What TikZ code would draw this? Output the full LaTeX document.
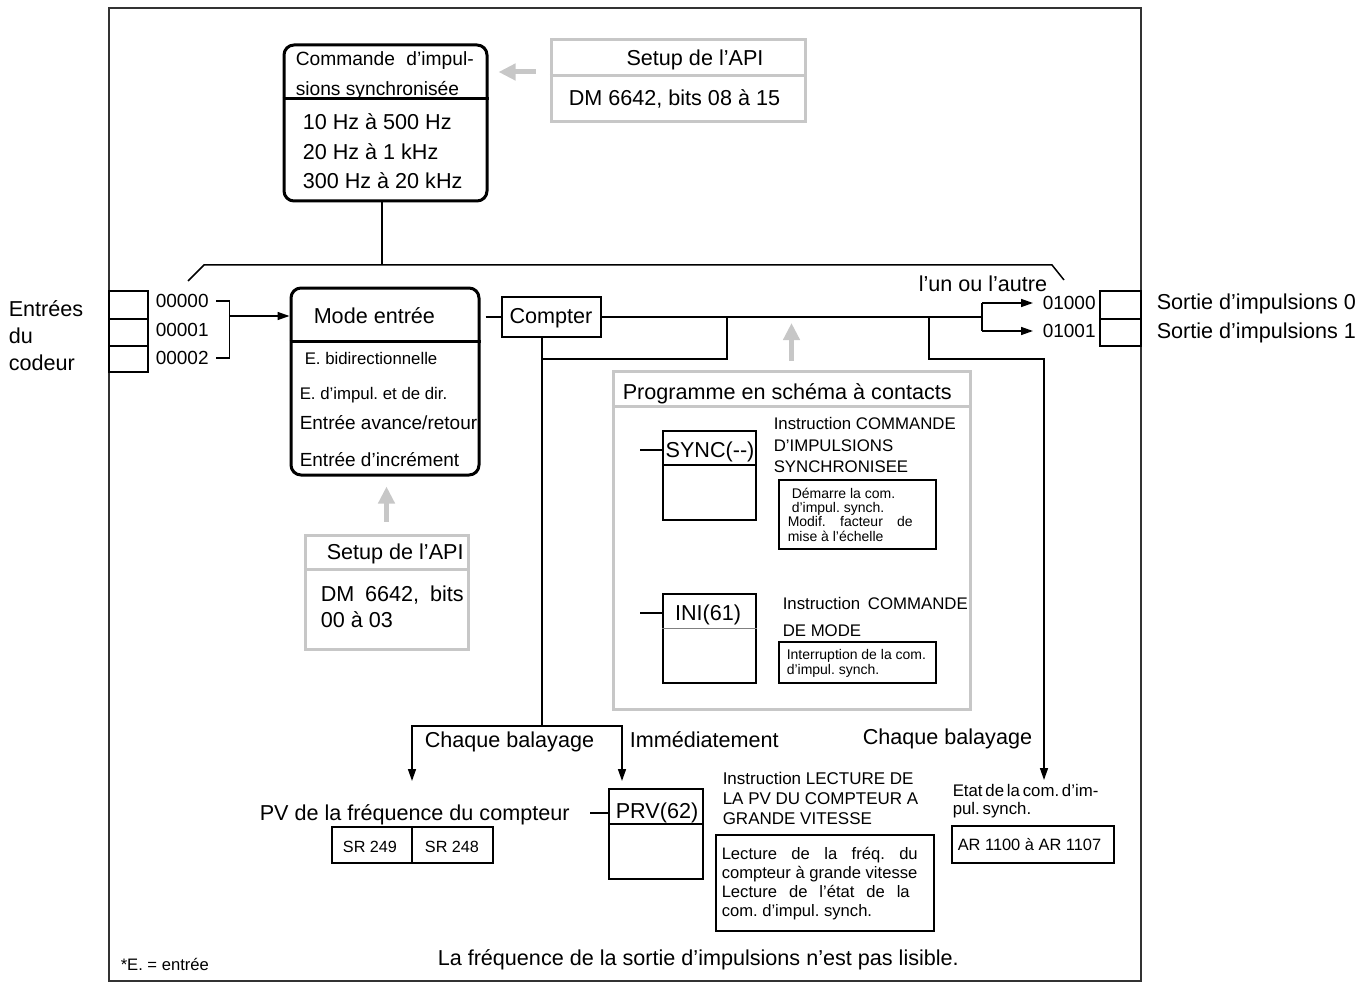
\documentclass[tikz,border=0pt]{standalone}
\usepackage{fontspec}
\setmainfont{Liberation Sans}
\usepackage{tikz}
\usetikzlibrary{arrows.meta,fit}
\definecolor{apigray}{gray}{0.78}
\definecolor{framegray}{gray}{0.2}
\newcommand\etatfont{\fontsize{8.4}{9}\selectfont\spaceskip 1.4pt plus 0.5pt\relax}
\tikzset{>/.tip={Triangle[length=6pt,width=4pt]},
  box/.style={draw, line width=.75pt, inner sep=0pt},
  rbox/.style={draw, line width=1.5pt, rounded corners=5pt, inner sep=0pt},
  gbox/.style={draw=apigray, line width=1.5pt, inner sep=0pt},
  garrow/.style={color=apigray, line width=2.5pt, -{Triangle[length=8.5pt,width=8pt]}},
  tbig/.style={font=\fontsize{10.8}{13.5}\selectfont, inner sep=0pt, text height=7.7pt, text depth=0pt},
  tmid/.style={font=\fontsize{9.5}{12}\selectfont, inner sep=0pt, text height=6.8pt, text depth=0pt},
  tsmall/.style={font=\fontsize{8.4}{10.5}\selectfont, inner sep=0pt, text height=6pt, text depth=0pt},
  mbig/.style={font=\fontsize{10.8}{13.5}\selectfont, inner sep=0pt, align=left, anchor=north west},
  msmall/.style={font=\fontsize{8.4}{10.75}\selectfont, inner sep=0pt, align=left, anchor=north west},
  mtiny/.style={font=\fontsize{7}{7.15}\selectfont, inner sep=0pt, align=left, anchor=north west}}

\begin{document}
\frenchspacing
\begin{tikzpicture}[x=0.5pt, y=-0.5pt, line width=.75pt]
\useasboundingbox (0,0) rectangle (1359,984);
\draw[framegray, line width=1pt] (109,8) rectangle (1141,981);

% commande d'impulsions synchronisee
\node[rbox, fit={(284,45) (487,201)}] (cmd) {};
\draw[line width=1.5pt] (cmd.west |- 0,99) -- (cmd.east |- 0,99);
\node[mbig, font=\fontsize{9.6}{15}\selectfont] (cmdH) at (295,51)
     {\makebox[89pt][s]{Commande d'impul-}\\sions synchronisée};
\node[mbig, font=\fontsize{10.8}{14.75}\selectfont] (cmdB) at (302,113)
     {10 Hz à 500 Hz\\20 Hz à 1 kHz\\300 Hz à 20 kHz};

\node[gbox, fit={(551,40) (805,122)}] (setupA) {};
\draw[apigray, line width=1.5pt] (setupA.west |- 0,76) -- (setupA.east |- 0,76);
\node[tbig] (setupAT) at (695,58) {Setup de l'API};
\node[tbig, anchor=west] (setupAD) at (568,98) {DM 6642, bits 08 à 15};
\draw[garrow] ([xshift=-7pt]setupA.west |- 0,72) -- ([xshift=5pt]cmd.east |- 0,72);

\coordinate (brkL) at (188,281);
\coordinate (brkA) at (204,265);
\coordinate (brkB) at (1052,265);
\coordinate (brkR) at (1064,280);
\draw (brkL) -- (brkA) -- (brkB) -- (brkR);
\draw ([xshift=-1.75pt]cmd.south) -- ([xshift=-1.75pt]cmd.south |- brkA);

% entrees du codeur
\node[mbig] (enc) at (8,300) {Entrées\\du\\codeur};
\node[box, fit={(109,291) (148,319)}] (inb0) {};
\node[box, fit={(109,319) (148,346)}] (inb1) {};
\node[box, fit={(109,346) (148,372)}] (inb2) {};
\node[tmid, anchor=west] (in0) at (155,301) {00000};
\node[tmid, anchor=west] (in1) at (155,330) {00001};
\node[tmid, anchor=west] (in2) at (155,358) {00002};
\draw ([xshift=3.5pt]in0.east) -- ++(13,0) coordinate (jin) |- ([xshift=3.5pt]in2.east);

% mode entree
\node[rbox, fit={(291,288) (479,475)}] (mode) {};
\draw[line width=1.5pt] (mode.west |- 0,341) -- (mode.east |- 0,341);
\node[tbig, anchor=west] (modeT) at (313,316) {Mode entrée};
\node[tsmall, anchor=west] (mode1) at (304,358) {E. bidirectionnelle};
\node[tsmall, anchor=west] (mode2) at (299,393) {E. d'impul. et de dir.};
\node[tmid, anchor=west] (mode3) at (299,423) {Entrée avance/retour};
\node[tmid, anchor=west] (mode4) at (299,460) {Entrée d'incrément};
\path[->] (jin |- modeT) edge (mode.west |- modeT);

\node[gbox, fit={(305,535) (468,649)}] (setupB) {};
\draw[apigray, line width=1.5pt] (setupB.west |- 0,569) -- (setupB.east |- 0,569);
\node[tbig, anchor=west] (setupBT) at (326,552) {Setup de l'API};
\node[mbig, font=\fontsize{10.8}{13}\selectfont] (setupBD) at (320,585)
     {\makebox[71.5pt][s]{DM 6642, bits}\\00 à 03};
\draw[garrow] ([yshift=6pt]setupB.north) -- ([yshift=-5pt]setupB.north |- mode.south);

% compter et sorties
\node[box, fit={(502,297) (601,337)}] (cpt) {};
\node[tbig] (cptT) at (551,316) {Compter};
\draw ([xshift=2.5pt]mode.east |- cpt) -- (cpt.west);
\coordinate (jout) at (982,317);
\draw (cpt.east) -- (jout);
\node[tmid, anchor=west] (out0) at (1042,303) {01000};
\node[tmid, anchor=west] (out1) at (1042,331) {01001};
\draw (jout |- out0) -- (jout |- out1);
\path[->] (jout |- out0) edge ([xshift=-4.5pt]out0.west);
\path[->] (jout |- out1) edge ([xshift=-4.5pt]out1.west);
\node[box, fit={(1100,291) (1141,319)}] (outb0) {};
\node[box, fit={(1100,319) (1141,346)}] (outb1) {};
\node[tbig, anchor=west] (pulse0) at (1156,302) {Sortie d'impulsions 0};
\node[tbig, anchor=west] (pulse1) at (1156,331) {Sortie d'impulsions 1};
\node[tbig, anchor=west] (either) at (918,284) {l'un ou l'autre};

\coordinate (loopL) at (727,359);
\coordinate (loopR) at (929,359);
\coordinate (tap) at (542,726);
\coordinate (pvA) at (412,781);
\coordinate (prvA) at (622,781);
\coordinate (etatA) at (1044,780);
\draw (loopL |- cpt.east) -- (loopL) -- (tap |- loopL);
\draw (tap |- cpt.south) -- (tap);
\draw[->] (tap) -| (pvA);
\draw[->] (tap) -| (prvA);
\draw[->] (loopR |- cpt.east) -- (loopR) -| (etatA);

% programme en schema a contacts
\node[gbox, fit={(613,371) (970,709)}] (prog) {};
\draw[apigray, line width=1.5pt] (prog.west |- 0,406) -- (prog.east |- 0,406);
\node[tbig, anchor=west] (progT) at (622,392) {Programme en schéma à contacts};
\draw[garrow] ([yshift=4.5pt]prog.north) -- ([yshift=-3pt]prog.north |- cpt.east);

\node[box, fit={(663,431) (756,520)}] (sync) {};
\draw (sync.west |- 0,465) -- (sync.east |- 0,465);
\node[tbig] (syncT) at (710,450) {SYNC(-{}-)};
\draw (sync.west |- syncT) -- ++(-22,0);
\node[msmall] (syncI) at (773,417) {Instruction COMMANDE\\D'IMPULSIONS\\SYNCHRONISEE};
\node[box, fit={(779,480) (936,549)}] (syncD) {};
\node[mtiny] (syncD1) at (791,487) {Démarre la com.\\d'impul. synch.};
\node[mtiny] (syncD2) at (787,516) {\makebox[62.5pt][s]{Modif. facteur de}\\mise à l'échelle};

\node[box, fit={(663,594) (756,683)}] (ini) {};
\draw[gray, line width=.4pt] (ini.west |- 0,628) -- (ini.east |- 0,628);
\node[tbig] (iniT) at (708,613) {INI(61)};
\draw (ini.west |- iniT) -- ++(-22,0);
\node[msmall, font=\fontsize{8.4}{13.5}\selectfont] (iniI) at (782,597)
     {\makebox[92.5pt][s]{Instruction COMMANDE}\\DE MODE};
\node[box, fit={(779,642) (936,683)}] (iniD) {};
\node[mtiny] (iniD1) at (786,649) {Interruption de la com.\\d'impul. synch.};

% lecture
\node[tbig, anchor=west] (scan1) at (424,740) {Chaque balayage};
\node[tbig, anchor=west] (now) at (629,740) {Immédiatement};
\node[tbig, anchor=west] (pv) at (259,813) {PV de la fréquence du compteur};
\node[box, fit={(332,827) (412,863)}] (sr9) {};
\node[box, fit={(412,827) (493,863)}] (sr8) {};
\node[tsmall, font=\fontsize{8.1}{10}\selectfont] (sr9T) at (370,846) {SR 249};
\node[tsmall, font=\fontsize{8.1}{10}\selectfont] (sr8T) at (452,846) {SR 248};
\node[box, fit={(609,789) (703,879)}] (prv) {};
\draw (prv.west |- 0,824) -- (prv.east |- 0,824);
\node[tbig] (prvT) at (657,811) {PRV(62)};
\draw ([xshift=10pt]pv.east) -- (prv.west |- pv);
\node[msmall, font=\fontsize{8.5}{10}\selectfont] (prvI) at (722,771)
     {Instruction LECTURE DE\\LA PV DU COMPTEUR A\\GRANDE VITESSE};
\node[box, fit={(716,835) (934,931)}] (prvD) {};
\node[msmall, font=\fontsize{8.3}{9.5}\selectfont] (prvD1) at (721,847)
     {\makebox[98pt][s]{Lecture de la fréq. du}\\compteur à grande vitesse\\
      \makebox[94pt][s]{Lecture de l'état de la}\\com. d'impul. synch.};

\node[tbig, anchor=west] (scan2) at (862,737) {Chaque balayage};
\node[msmall, font=\etatfont] (etat) at (952,784) {Etat de la com. d'im-\\pul. synch.};
\node[box, fit={(952,826) (1114,863)}] (ar) {};
\node[tsmall, font=\fontsize{8.2}{10}\selectfont, anchor=west] (arT) at (957,844) {AR 1100 à AR 1107};

\node[tbig, anchor=west] (note) at (437,958) {La fréquence de la sortie d'impulsions n'est pas lisible.};
\node[tsmall, font=\fontsize{8.3}{10}\selectfont, anchor=west] (foot) at (120,964) {*E. = entrée};
\end{tikzpicture}
\end{document}
